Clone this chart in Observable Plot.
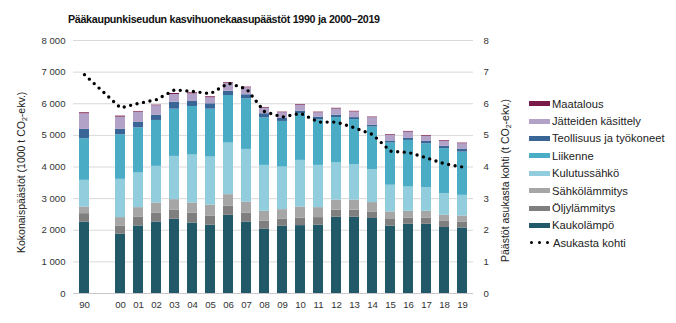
<!DOCTYPE html>
<html>
<head>
<meta charset="utf-8">
<script src="https://cdn.jsdelivr.net/npm/d3@7"></script>
<script src="https://cdn.jsdelivr.net/npm/@observablehq/plot@0.6"></script>
<style>
  html, body { margin: 0; padding: 0; background: #fff; }
  body { font-family: "Liberation Sans", Arial, sans-serif; color: #222; }
  #wrap { position: relative; width: 676px; height: 323px; overflow: hidden; }
  #chart { position: absolute; left: 0; top: 0; }
  .title { position: absolute; left: 68px; top: 13px; font-size: 10.7px; letter-spacing: -0.3px; font-weight: bold; white-space: nowrap; color: #111; }
  .ytitle { position: absolute; font-size: 10.5px; white-space: nowrap; color: #222; transform-origin: 0 0; }
  .ytitle sub { font-size: 7px; vertical-align: -2px; line-height: 0; }
  .legend { position: absolute; left: 529px; top: 95px; font-size: 11.2px; color: #222; }
  .li { height: 17.4px; display: flex; align-items: center; white-space: nowrap; }
  .sw { width: 21px; height: 5px; margin-right: 2px; }
  .dots { width: 21px; margin-right: 3px; display: flex; justify-content: space-between; padding: 0 1px; box-sizing: border-box; }
  .dots span { width: 3.3px; height: 3.3px; border-radius: 50%; background: #000; }
</style>
</head>
<body>
<div id="wrap">
  <div id="chart"></div>
  <div class="title">Pääkaupunkiseudun kasvihuonekaasupäästöt 1990 ja 2000–2019</div>
  <div class="ytitle" id="yl">Kokonaispäästöt (1000 t CO<sub>2</sub>-ekv.)</div>
  <div class="ytitle" id="yr">Päästöt asukasta kohti (t CO<sub>2</sub>-ekv.)</div>
  <div class="legend" id="legend"></div>
</div>
<script>
// ---- data ----
const years = ["90","00","01","02","03","04","05","06","07","08","09","10","11","12","13","14","15","16","17","18","19"];
const xDomain = ["90","gap","00","01","02","03","04","05","06","07","08","09","10","11","12","13","14","15","16","17","18","19"];

const kaukolampo     = [2260,1872,2135,2262,2346,2230,2157,2472,2262,2030,2125,2147,2157,2410,2410,2372,2130,2188,2188,2088,2072];
const oljylammitys   = [265,263,285,284,284,316,294,285,284,253,231,240,243,225,225,207,210,199,199,207,190];
const sahkolammitys  = [210,265,295,316,338,316,347,369,347,316,296,348,315,316,316,296,240,212,212,179,189];
const kulutussahko   = [843,1209,1094,1158,1367,1515,1516,1630,1663,1452,1346,1474,1336,1178,1127,1042,843,767,748,686,653];
const liikenne       = [1316,1411,1432,1452,1494,1537,1515,1505,1601,1506,1443,1475,1443,1433,1421,1346,1336,1475,1389,1420,1368];
const teollisuus     = [294,168,168,169,221,158,170,136,127,127,104,82,83,73,63,63,63,73,73,73,95];
const jatteet        = [496,389,326,295,243,243,190,253,221,177,170,190,138,199,178,233,180,189,158,158,169];
const maatalous      = [30,32,21,20,32,31,31,22,20,22,20,21,20,22,21,20,21,22,22,22,20];
const asukastaKohti  = [6.92,5.87,6.01,6.13,6.44,6.39,6.32,6.65,6.47,5.75,5.58,5.70,5.42,5.42,5.24,5.03,4.50,4.46,4.29,4.10,4.00];

const seriesNames  = ["Kaukolämpö","Öljylämmitys","Sähkölämmitys","Kulutussähkö","Liikenne","Teollisuus ja työkoneet","Jätteiden käsittely","Maatalous"];
const seriesValues = [kaukolampo, oljylammitys, sahkolammitys, kulutussahko, liikenne, teollisuus, jatteet, maatalous];
const seriesColors = ["#215968","#7f7f7f","#a6a6a6","#92cddd","#4bacc6","#3a6597","#b3a2c7","#7a1a48"];
const leftTicks  = [0,1000,2000,3000,4000,5000,6000,7000,8000];

// ---- build tables ----
const rows = [];
seriesNames.forEach((s, i) => years.forEach((y, j) => rows.push({year: y, series: s, value: seriesValues[i][j]})));
const perCap = years.map((y, j) => ({year: y, v: asukastaKohti[j]}));

const fmt = d => d === 0 ? "0" : d3.format(",")(d).replace(/,/g, " ");

const chart = Plot.plot({
  width: 676,
  height: 323,
  marginLeft: 73,
  marginRight: 203,
  marginTop: 40,
  marginBottom: 30,
  style: {fontFamily: "'Liberation Sans', Arial, sans-serif", fontSize: "9.6px", color: "#333", background: "transparent"},
  x: {type: "band", domain: xDomain, paddingInner: 0.45, paddingOuter: 0.225, label: null},
  y: {domain: [0, 8000], label: null},
  color: {domain: seriesNames, range: seriesColors},
  marks: [
    Plot.gridY(leftTicks.filter(d => d > 0), {stroke: "#d9d9d9", strokeOpacity: 1, strokeWidth: 1}),
    Plot.barY(rows, {x: "year", y: "value", fill: "series", order: seriesNames}),
    Plot.ruleY([0], {stroke: "#c8c8c8", strokeWidth: 1}),
    Plot.line(perCap, {x: "year", y: d => d.v * 1000, stroke: "#000", strokeWidth: 3.4, strokeDasharray: "0 6.6", strokeLinecap: "round"}),
    Plot.axisY({ticks: leftTicks, tickFormat: fmt, tickSize: 0, tickPadding: 8, label: null}),
    Plot.axisY({anchor: "right", ticks: leftTicks, tickFormat: d => String(d / 1000), tickSize: 0, tickPadding: 10, label: null}),
    Plot.axisX({tickSize: 0, tickPadding: 8, tickFormat: d => d === "gap" ? "" : d, label: null})
  ]
});
document.getElementById("chart").appendChild(chart);

// axis titles (rotated)
const yl = document.getElementById("yl");
const yr = document.getElementById("yr");
function placeRot(el, cx, cy) {
  const w = el.offsetWidth, h = el.offsetHeight;
  el.style.left = (cx - h / 2) + "px";
  el.style.top = (cy + w / 2) + "px";
  el.style.transform = "rotate(-90deg)";
}
placeRot(yl, 21, 172);
placeRot(yr, 505, 180);

// legend (top to bottom, reverse of stack)
const legend = document.getElementById("legend");
for (let i = seriesNames.length - 1; i >= 0; i--) {
  const li = document.createElement("div");
  li.className = "li";
  li.innerHTML = `<div class="sw" style="background:${seriesColors[i]}"></div><div>${seriesNames[i]}</div>`;
  legend.appendChild(li);
}
const li = document.createElement("div");
li.className = "li";
li.innerHTML = `<div class="dots"><span></span><span></span><span></span></div><div>Asukasta kohti</div>`;
legend.appendChild(li);
</script>
</body>
</html>
